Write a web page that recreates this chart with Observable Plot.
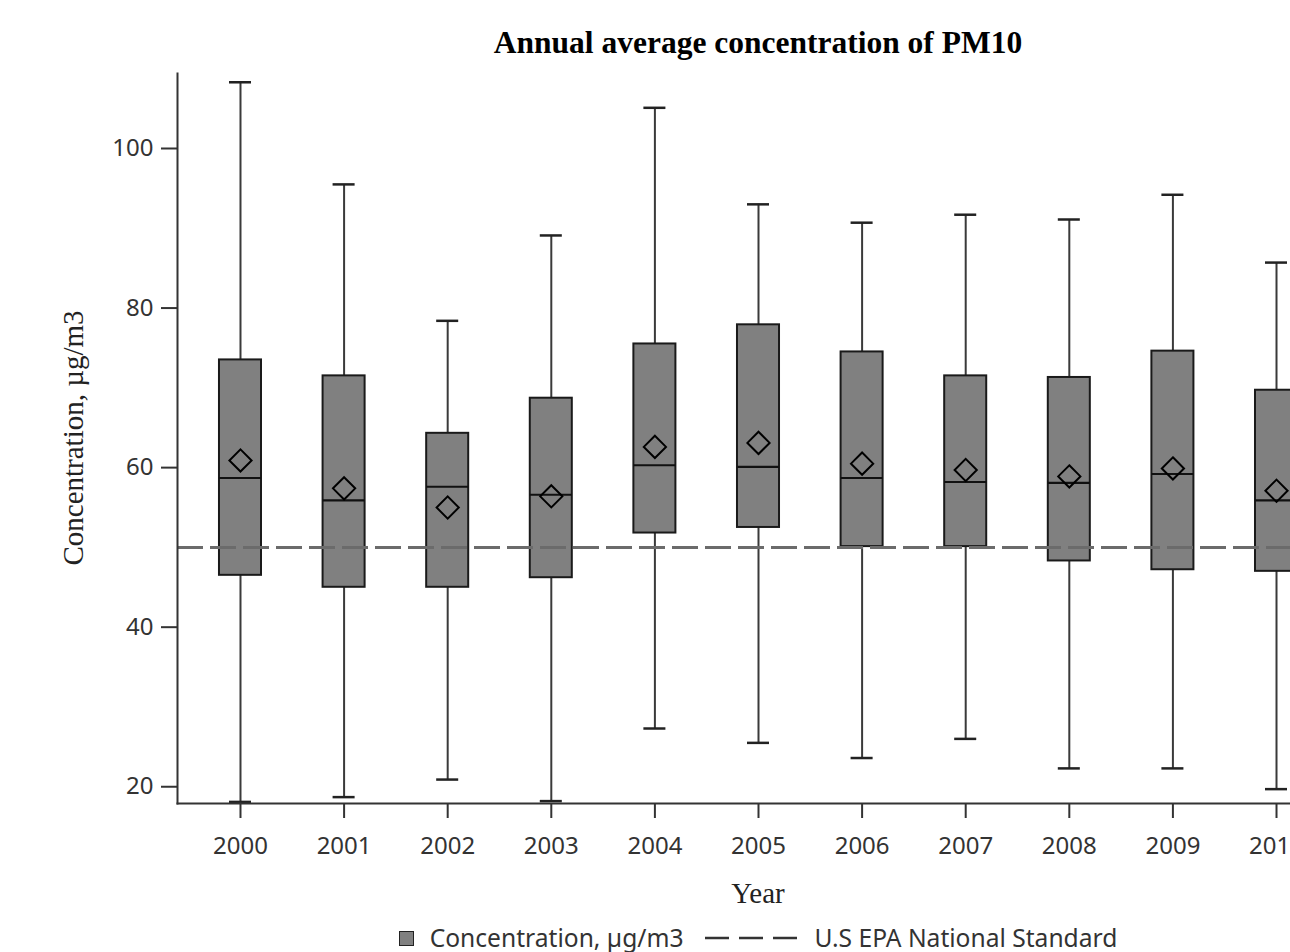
<!DOCTYPE html>
<html>
<head>
<meta charset="utf-8">
<script src="https://cdn.jsdelivr.net/npm/d3@7"></script>
<script src="https://cdn.jsdelivr.net/npm/@observablehq/plot@0.6"></script>
<style>
  html, body { margin: 0; padding: 0; background: #fff; overflow: hidden; }
  #wrap { position: relative; width: 1290px; height: 952px; overflow: hidden; }
  #chart { position: absolute; left: 0; top: 0; width: 1359px; }
  #chart svg { max-width: none !important; width: 1359px; height: 860px; }
  .title { position: absolute; left: 177px; width: 1162px; top: 25px; text-align: center;
           font-family: "Liberation Serif", serif; font-weight: bold; font-size: 31.5px; line-height: 36px; color: #000; }
  .xlabel { position: absolute; left: 177px; width: 1162px; top: 876px; text-align: center;
            font-family: "Liberation Serif", serif; font-size: 29px; line-height: 34px; color: #222; }
  .ylabel { position: absolute; left: 73px; top: 438px; transform: translate(-50%, -50%) rotate(-90deg);
            white-space: nowrap; font-family: "Liberation Serif", serif; font-size: 29px; line-height: 34px; color: #222; }
  .legend { position: absolute; left: 177px; width: 1162px; top: 922px; display: flex; justify-content: center;
            align-items: center; font-family: "Noto Sans", sans-serif; font-size: 24.6px; line-height: 32px; color: #333; }
  .swatch { width: 13px; height: 13px; background: #808080; border: 1.5px solid #222; margin-right: 16px; }
  .dash { margin: 0 17px 0 22px; }
</style>
</head>
<body>
<div id="wrap">
  <div class="title">Annual average concentration of PM10</div>
  <div id="chart"></div>
  <div class="ylabel">Concentration, µg/m3</div>
  <div class="xlabel">Year</div>
  <div class="legend">
    <span class="swatch"></span><span>Concentration, µg/m3</span>
    <svg class="dash" width="92" height="6"><line x1="0" y1="3" x2="92" y2="3" stroke="#333" stroke-width="2.5" stroke-dasharray="24,10"></line></svg>
    <span>U.S EPA National Standard</span>
  </div>
</div>
<script>
const years   = ["2000","2001","2002","2003","2004","2005","2006","2007","2008","2009","2010"];
const minV    = [18.1, 18.7, 20.9, 18.2, 27.3, 25.5, 23.6, 26.0, 22.3, 22.3, 19.7];
const q1V     = [46.5, 45.0, 45.0, 46.2, 51.8, 52.5, 50.1, 50.1, 48.3, 47.2, 47.0];
const medianV = [58.7, 55.9, 57.6, 56.6, 60.3, 60.1, 58.7, 58.2, 58.1, 59.2, 55.9];
const meanV   = [60.9, 57.4, 55.0, 56.4, 62.6, 63.1, 60.5, 59.7, 58.9, 59.9, 57.1];
const q3V     = [73.5, 71.5, 64.3, 68.7, 75.5, 77.9, 74.5, 71.5, 71.3, 74.6, 69.7];
const maxV    = [108.3, 95.5, 78.4, 89.1, 105.1, 93.0, 90.7, 91.7, 91.1, 94.2, 85.7];
const standard = [50];
const yTicks  = [20, 40, 60, 80, 100];

const rows = years.map((year, i) => ({
  year, min: minV[i], q1: q1V[i], median: medianV[i], mean: meanV[i], q3: q3V[i], max: maxV[i]
}));

const chart = Plot.plot({
  width: 1359,
  height: 860,
  marginLeft: 177,
  marginRight: 20,
  marginTop: 73,
  marginBottom: 57,
  style: { fontFamily: "'Noto Sans', sans-serif", fontSize: "24px", color: "#333", background: "transparent" },
  x: { domain: years, padding: 0.216, round: false, label: null },
  y: { domain: [17.9, 109.4], label: null },
  marks: [
    Plot.ruleX(rows, { x: "year", y1: "min", y2: "max", stroke: "#3a3a3a", strokeWidth: 2 }),
    Plot.tickY(rows, { x: "year", y: "min", stroke: "#222", strokeWidth: 2.5, insetLeft: 29.6, insetRight: 29.6 }),
    Plot.tickY(rows, { x: "year", y: "max", stroke: "#222", strokeWidth: 2.5, insetLeft: 29.6, insetRight: 29.6 }),
    Plot.barY(rows, { x: "year", y1: "q1", y2: "q3", fill: "#808080", stroke: "#1a1a1a", strokeWidth: 2, insetLeft: 19.6, insetRight: 19.6 }),
    Plot.tickY(rows, { x: "year", y: "median", stroke: "#111", strokeWidth: 2.2, insetLeft: 19.6, insetRight: 19.6 }),
    Plot.dot(rows, { x: "year", y: "mean", symbol: "diamond2", r: 10, fill: "none", stroke: "#000", strokeWidth: 2 }),
    Plot.ruleY(standard, { stroke: "#6b6b6b", strokeWidth: 3, strokeDasharray: "26,7" }),
    Plot.axisY({ ticks: yTicks, tickSize: 16, tickPadding: 8, strokeWidth: 2, label: null }),
    Plot.axisX({ tickSize: 15, tickPadding: 18, strokeWidth: 2, label: null }),
    Plot.frame({ anchor: "left", stroke: "#333", strokeWidth: 2 }),
    Plot.frame({ anchor: "bottom", stroke: "#333", strokeWidth: 2 })
  ]
});
document.getElementById("chart").appendChild(chart);
</script>
</body>
</html>
